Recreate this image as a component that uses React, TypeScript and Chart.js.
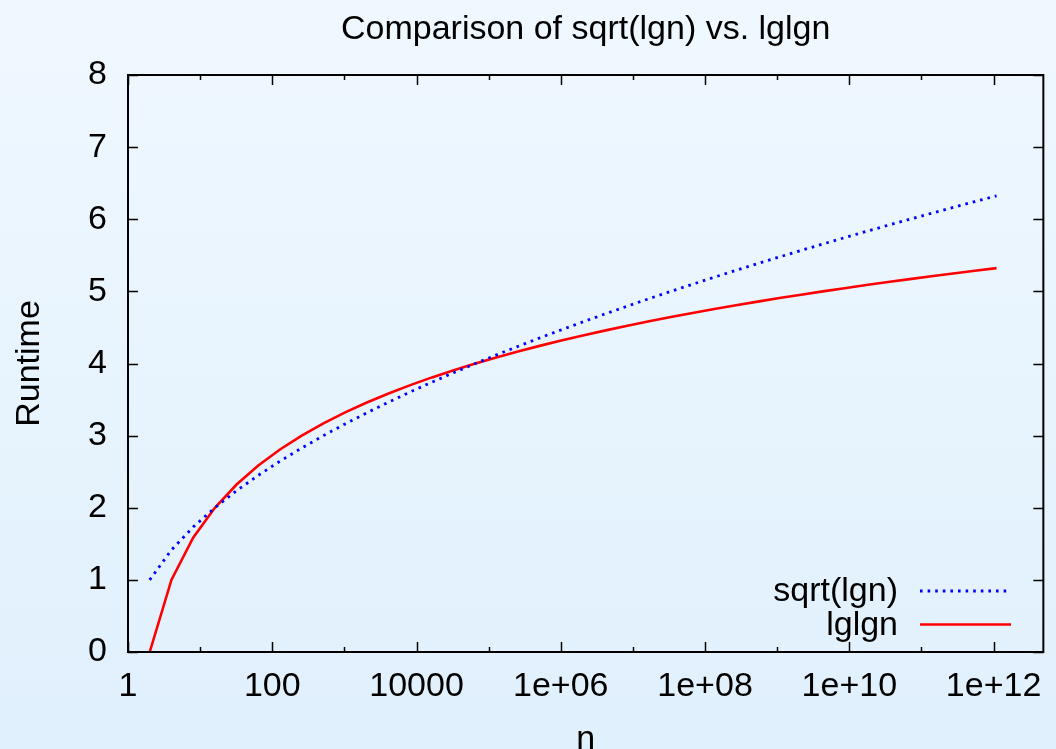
import React, { useEffect, useRef } from "react";
import { Chart, registerables } from "chart.js";

Chart.register(...registerables);

const chartTitle = "Comparison of sqrt(lgn) vs. lglgn";
const xAxisTitle = "n";
const yAxisTitle = "Runtime";

const nValues = [
  2, 4, 8, 16, 32, 64, 128, 256, 512, 1024,
  2048, 4096, 8192, 16384, 32768, 65536, 131072, 262144, 524288, 1048576,
  2097152, 4194304, 8388608, 16777216, 33554432, 67108864, 134217728, 268435456, 536870912, 1073741824,
  2147483648, 4294967296, 8589934592, 17179869184, 34359738368, 68719476736, 137438953472, 274877906944, 549755813888, 1099511627776,
];

const sqrtLgValues = [
  1, 1.4142, 1.7321, 2, 2.2361, 2.4495, 2.6458, 2.8284, 3, 3.1623,
  3.3166, 3.4641, 3.6056, 3.7417, 3.873, 4, 4.1231, 4.2426, 4.3589, 4.4721,
  4.5826, 4.6904, 4.7958, 4.899, 5, 5.099, 5.1962, 5.2915, 5.3852, 5.4772,
  5.5678, 5.6569, 5.7446, 5.831, 5.9161, 6, 6.0828, 6.1644, 6.245, 6.3246,
];

const lgLgValues = [
  0, 1, 1.585, 2, 2.3219, 2.585, 2.8074, 3, 3.1699, 3.3219,
  3.4594, 3.585, 3.7004, 3.8074, 3.9069, 4, 4.0875, 4.1699, 4.2479, 4.3219,
  4.3923, 4.4594, 4.5236, 4.585, 4.6439, 4.7004, 4.7549, 4.8074, 4.858, 4.9069,
  4.9542, 5, 5.0444, 5.0875, 5.1293, 5.1699, 5.2095, 5.2479, 5.2854, 5.3219,
];

const seriesLabels = ["sqrt(lgn)", "lglgn"];

const xTickValues = [1, 100, 10000, 1e6, 1e8, 1e10, 1e12];
const xTickLabels = ["1", "100", "10000", "1e+06", "1e+08", "1e+10", "1e+12"];
const xMinorTickValues = [10, 1000, 100000, 1e7, 1e9, 1e11];
const yTickValues = [0, 1, 2, 3, 4, 5, 6, 7, 8];

const FONT = "'Liberation Sans', Arial, Helvetica, sans-serif";
const FS = 34;

const bgPlugin = {
  id: "bgGradient",
  beforeDraw(chart: any) {
    const { ctx, width, height } = chart;
    const g = ctx.createLinearGradient(0, 0, 0, height);
    g.addColorStop(0, "#f0f8ff");
    g.addColorStop(1, "#e0f0fc");
    ctx.save();
    ctx.fillStyle = g;
    ctx.fillRect(0, 0, width, height);
    ctx.restore();
  },
};

const framePlugin = {
  id: "frameTicks",
  afterDraw(chart: any) {
    const { ctx, chartArea } = chart;
    const { left, right, top, bottom } = chartArea;
    const xs = chart.scales.x;
    const ys = chart.scales.y;
    ctx.save();
    ctx.strokeStyle = "#000";
    ctx.lineWidth = 1.5;
    ctx.beginPath();
    const major = 10;
    const minor = 5;
    xTickValues.forEach((v) => {
      const px = Math.round(xs.getPixelForValue(v)) + 0.5;
      ctx.moveTo(px, bottom);
      ctx.lineTo(px, bottom - major);
      ctx.moveTo(px, top);
      ctx.lineTo(px, top + major);
    });
    xMinorTickValues.forEach((v) => {
      const px = Math.round(xs.getPixelForValue(v)) + 0.5;
      ctx.moveTo(px, bottom);
      ctx.lineTo(px, bottom - minor);
      ctx.moveTo(px, top);
      ctx.lineTo(px, top + minor);
    });
    yTickValues.forEach((v) => {
      const py = Math.round(ys.getPixelForValue(v)) + 0.5;
      ctx.moveTo(left, py);
      ctx.lineTo(left + major, py);
      ctx.moveTo(right, py);
      ctx.lineTo(right - major, py);
    });
    ctx.stroke();
    ctx.lineWidth = 2;
    ctx.strokeRect(left, top, right - left, bottom - top);

    // gnuplot style legend (bottom right, inside)
    const ds = chart.data.datasets;
    const textRight = 898;
    const baselines = [601, 635];
    const lineYs = [591, 624.5];
    ctx.font = `${FS}px ${FONT}`;
    ctx.fillStyle = "#000";
    ctx.textAlign = "right";
    ctx.textBaseline = "alphabetic";
    ds.forEach((d: any, i: number) => {
      ctx.fillText(d.label, textRight, baselines[i]);
      ctx.beginPath();
      ctx.strokeStyle = d.borderColor;
      ctx.lineWidth = d.borderWidth;
      ctx.setLineDash(d.borderDash || []);
      ctx.moveTo(920, lineYs[i]);
      ctx.lineTo(1011, lineYs[i]);
      ctx.stroke();
      ctx.setLineDash([]);
    });
    ctx.restore();
  },
};

export default function App() {
  const ref = useRef<HTMLCanvasElement | null>(null);

  useEffect(() => {
    if (!ref.current) return;
    const chart = new Chart(ref.current, {
      type: "line",
      data: {
        datasets: [
          {
            label: seriesLabels[0],
            data: nValues.map((n, i) => ({ x: n, y: sqrtLgValues[i] })),
            borderColor: "#0000ff",
            borderWidth: 2.8,
            borderDash: [2.6, 5],
            borderCapStyle: "butt",
            pointRadius: 0,
            tension: 0,
            fill: false,
          },
          {
            label: seriesLabels[1],
            data: nValues.map((n, i) => ({ x: n, y: lgLgValues[i] })),
            borderColor: "#ff0000",
            borderWidth: 2.6,
            pointRadius: 0,
            tension: 0,
            fill: false,
          },
        ],
      },
      options: {
        animation: false,
        responsive: false,
        devicePixelRatio: 1,
        layout: { padding: { left: 0, right: 4, top: 0, bottom: 0 } },
        plugins: {
          legend: { display: false },
          tooltip: { enabled: false },
          title: {
            display: true,
            fullSize: false,
            text: chartTitle,
            color: "#000",
            font: { family: FONT, size: FS, weight: "normal", lineHeight: 1.2 },
            padding: { top: 9, bottom: 25.2 },
          },
        },
        scales: {
          x: {
            type: "logarithmic",
            min: 1,
            max: 4.9e12,
            grid: { display: false, drawTicks: false },
            border: { display: false },
            afterBuildTicks: (scale: any) => {
              scale.ticks = xTickValues.map((v) => ({ value: v }));
            },
            afterFit: (scale: any) => {
              scale.height = 97;
            },
            ticks: {
              autoSkip: false,
              maxRotation: 0,
              minRotation: 0,
              padding: 14,
              color: "#000",
              font: { family: FONT, size: FS, lineHeight: 1.2 },
              callback: (v: any) => {
                const idx = xTickValues.indexOf(Number(v));
                return idx >= 0 ? xTickLabels[idx] : "";
              },
            },
            title: {
              display: true,
              text: xAxisTitle,
              color: "#000",
              font: { family: FONT, size: FS, lineHeight: 0.75 },
              padding: { top: 0, bottom: -3 },
            },
          },
          y: {
            type: "linear",
            min: 0,
            max: 8,
            grid: { display: false, drawTicks: false },
            border: { display: false },
            afterFit: (scale: any) => {
              scale.width = 128;
            },
            ticks: {
              stepSize: 1,
              padding: 21,
              color: "#000",
              font: { family: FONT, size: FS, lineHeight: 1.2 },
            },
            title: {
              display: true,
              text: yAxisTitle,
              color: "#000",
              font: { family: FONT, size: FS, lineHeight: 1 },
              padding: { top: 13, bottom: 0 },
            },
          },
        },
      } as any,
      plugins: [bgPlugin, framePlugin],
    });
    return () => chart.destroy();
  }, []);

  return (
    <div style={{ position: "fixed", left: 0, top: 0, width: 1056, height: 749, overflow: "hidden" }}>
      <canvas ref={ref} width={1056} height={749} style={{ display: "block" }} />
    </div>
  );
}
